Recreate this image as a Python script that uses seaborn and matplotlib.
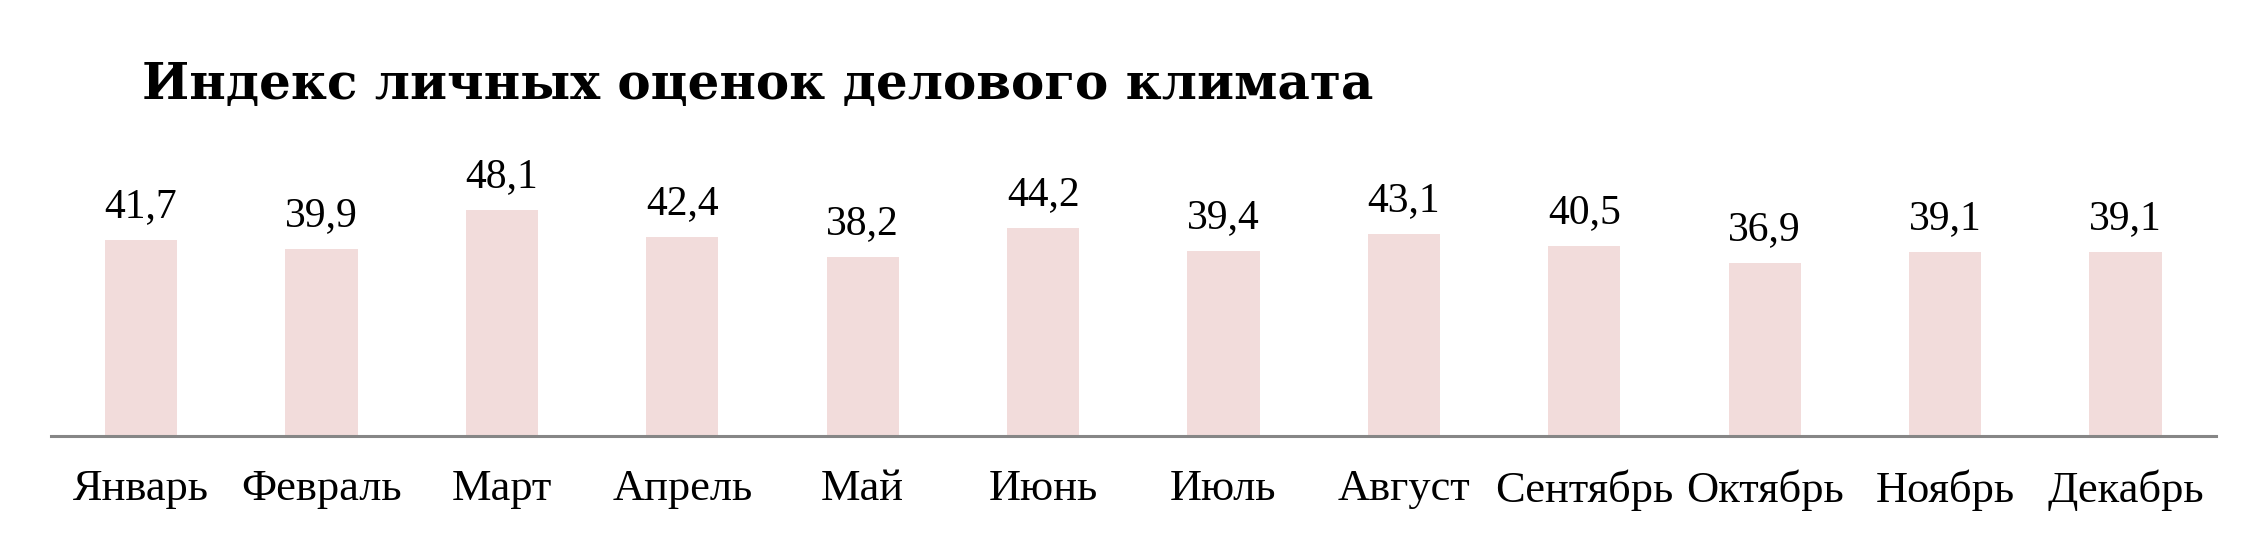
import matplotlib
matplotlib.use("Agg")
import matplotlib.pyplot as plt
import seaborn as sns
import pandas as pd

months = ["Январь", "Февраль", "Март", "Апрель", "Май", "Июнь",
          "Июль", "Август", "Сентябрь", "Октябрь", "Ноябрь", "Декабрь"]
values = [41.7, 39.9, 48.1, 42.4, 38.2, 44.2, 39.4, 43.1, 40.5, 36.9, 39.1, 39.1]
title = "Индекс личных оценок делового климата"

sns.set_theme(style="white")
plt.rcParams['font.family'] = ['Liberation Serif', 'DejaVu Serif']

df = pd.DataFrame({"month": months, "value": values})

fig = plt.figure(figsize=(22.62, 5.39), dpi=100)
ax = fig.add_axes([0.0225, 0.191, 0.957, 0.523])

sns.barplot(data=df, x="month", y="value", color="#F2DCDB", saturation=1,
            width=0.4, ax=ax, edgecolor="none")

ax.set_xlim(-0.5, len(months) - 0.5)
ax.set_ylim(0, 60)
ax.set_xlabel("")
ax.set_ylabel("")
ax.set_yticks([])
for s in ["left", "top", "right"]:
    ax.spines[s].set_visible(False)
ax.spines["bottom"].set_color("#868686")
ax.spines["bottom"].set_linewidth(2.2)
ax.tick_params(axis="x", length=0, pad=24, labelsize=32, colors="black")

for i, v in enumerate(values):
    ax.annotate(f"{v:.1f}".replace(".", ","), (i, v), xytext=(0, 10),
                textcoords="offset points", ha="center", va="bottom",
                fontsize=30, color="black")

fig.text(142 / 2262, 1 - 99 / 539, title, fontsize=36, fontweight="heavy",
         family=["DejaVu Serif"], ha="left", va="baseline", color="black")

fig.savefig("out.png", dpi=100, facecolor="white")
